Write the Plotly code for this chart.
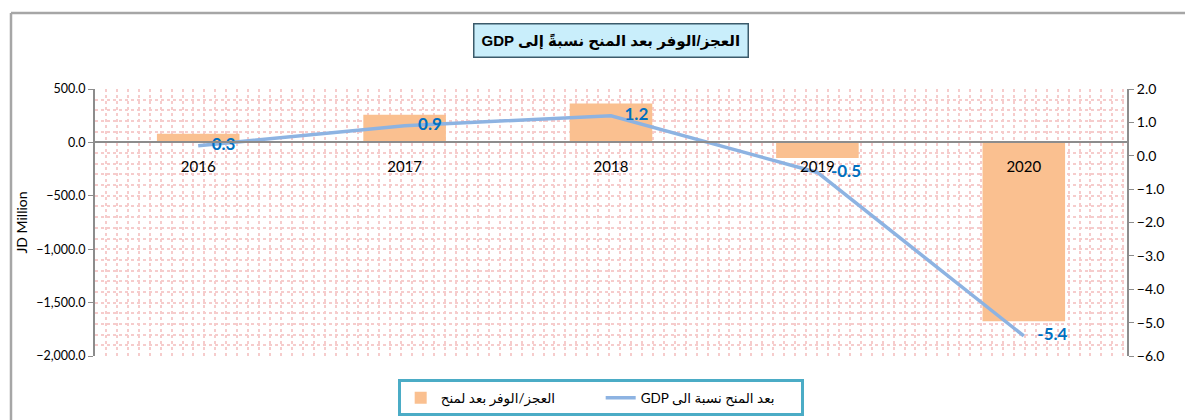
import plotly.graph_objects as go

# Chart data
years = ['2016', '2017', '2018', '2019', '2020']
balance_jd_million = [80, 260, 365, -145, -1675]
balance_pct_gdp = [0.3, 0.9, 1.2, -0.5, -5.4]

# Texts (Arabic kept as is; "GDP" placed first so it shows on the left in an LTR svg)
title_text = 'GDP العجز/الوفر بعد المنح نسبةً إلى'
bar_name = 'العجز/الوفر بعد لمنح'
line_name = 'GDP بعد المنح نسبة الى'
left_axis_title = 'JD Million'

left_range = [-2000, 500]
right_range = [-6, 2]

font_family = 'Lato, Arial, DejaVu Sans'
grid_color = '#f6cccc'
axis_color = '#8c8c8c'

x_pos = list(range(len(years)))
# x axis (category labels) sits on the zero line of the left axis
zero_pos = (0 - left_range[0]) / (left_range[1] - left_range[0])

fig = go.Figure()

fig.add_trace(go.Bar(
    x=x_pos, y=balance_jd_million, name=bar_name,
    marker=dict(color='#fac090', line=dict(width=0)),
    width=0.4, yaxis='y',
))

fig.add_trace(go.Scatter(
    x=x_pos, y=balance_pct_gdp, name=line_name, yaxis='y2',
    mode='lines+markers+text',
    line=dict(color='#8db3e2', width=3.5),
    marker=dict(size=20, color='rgba(0,0,0,0)'),
    text=[f'{v:.1f}' for v in balance_pct_gdp],
    textposition='middle right',
    textfont=dict(color='#0070c0', size=17, family=font_family, weight='bold'),
))

# the page body has an 8px margin, so the figure is 8px smaller than the window
fig.update_layout(
    width=1185, height=412, autosize=False,
    margin=dict(l=87, r=66, t=81, b=64, autoexpand=False),
    paper_bgcolor='white', plot_bgcolor='white',
    font=dict(family=font_family, color='black', size=12),
    bargap=0.6,
    xaxis=dict(
        range=[-0.5, len(years) - 0.5],
        tickvals=x_pos, ticktext=years,
        anchor='free', position=zero_pos, automargin=False,
        showline=True, linecolor=axis_color, linewidth=2,
        ticks='', showgrid=False, zeroline=False, ticklabelstandoff=11,
        tickfont=dict(size=15, color='black'),
        minor=dict(tick0=-0.5, dtick=0.053, showgrid=True,
                   gridcolor=grid_color, griddash='dot', gridwidth=1.5),
    ),
    yaxis=dict(
        range=left_range, dtick=500, tickformat=',.1f', automargin=False,
        showline=True, linecolor=axis_color, linewidth=2,
        ticks='outside', ticklen=5, tickcolor=axis_color, tickwidth=1,
        showgrid=True, gridcolor=grid_color, griddash='dot', gridwidth=1.5,
        minor=dict(dtick=100, showgrid=True, gridcolor=grid_color,
                   griddash='dot', gridwidth=1.5),
        zeroline=False,
        tickfont=dict(size=12.5, color='black'),
        title=dict(text=left_axis_title, font=dict(size=14, color='black'), standoff=5),
    ),
    yaxis2=dict(
        range=right_range, dtick=1, tickformat='.1f', automargin=False,
        overlaying='y', side='right',
        showline=True, linecolor=axis_color, linewidth=2,
        ticks='outside', ticklen=5, tickcolor=axis_color, tickwidth=1,
        showgrid=False, zeroline=False,
        tickfont=dict(size=14, color='black'),
    ),
    legend=dict(
        orientation='h', x=0.49, xanchor='center', y=-0.157, yanchor='middle',
        bordercolor='#4bacc6', borderwidth=3, bgcolor='white',
        font=dict(size=13.5, color='black'),
        entrywidth=155, entrywidthmode='pixels',
        traceorder='normal',
    ),
    annotations=[dict(
        text='<b>' + title_text + '</b>',
        x=0.5, y=1.183, xref='paper', yref='paper',
        xanchor='center', yanchor='middle', showarrow=False,
        font=dict(size=15, color='black', family='Arial, DejaVu Sans'),
        bgcolor='#c9eefb', bordercolor='#3b5a6a', borderwidth=1.5, borderpad=7,
    )],
    shapes=[
        # outer chart frame (top and left edges)
        dict(type='line', xref='paper', yref='paper',
             x0=-0.0814, x1=1.1, y0=1.285, y1=1.285,
             line=dict(color='#a6a6a6', width=2.5)),
        dict(type='line', xref='paper', yref='paper',
             x0=-0.0814, x1=-0.0814, y0=1.285, y1=-0.3,
             line=dict(color='#a6a6a6', width=2.5)),
    ],
)

fig.write_html('out.html')
